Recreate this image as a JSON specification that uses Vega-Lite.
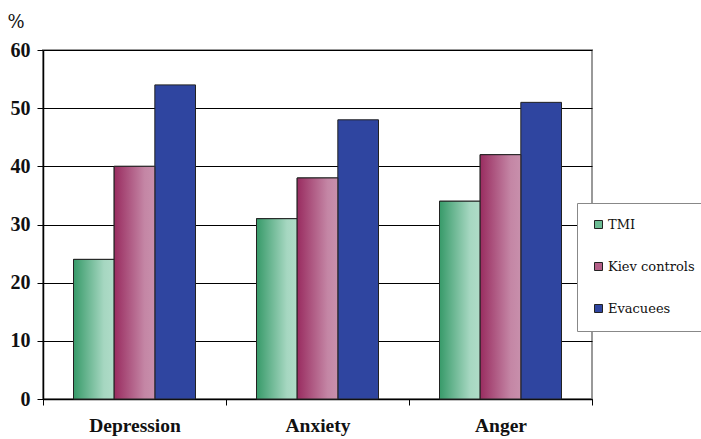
{
  "$schema": "https://vega.github.io/schema/vega-lite/v6.json",
  "width": 549,
  "height": 349,
  "autosize": {"type": "none"},
  "padding": {"left": 43, "top": 50, "right": 109, "bottom": 40},
  "background": "white",
  "config": {
    "view": {"stroke": "#999999", "strokeWidth": 2},
    "font": "Liberation Serif"
  },
  "data": {
    "values": [
      {"scale": "Depression", "group": "TMI", "pct": 24},
      {"scale": "Depression", "group": "Kiev controls", "pct": 40},
      {"scale": "Depression", "group": "Evacuees", "pct": 54},
      {"scale": "Anxiety", "group": "TMI", "pct": 31},
      {"scale": "Anxiety", "group": "Kiev controls", "pct": 38},
      {"scale": "Anxiety", "group": "Evacuees", "pct": 48},
      {"scale": "Anger", "group": "TMI", "pct": 34},
      {"scale": "Anger", "group": "Kiev controls", "pct": 42},
      {"scale": "Anger", "group": "Evacuees", "pct": 51}
    ]
  },
  "encoding": {
    "x": {
      "field": "scale",
      "type": "nominal",
      "sort": ["Depression", "Anxiety", "Anger"],
      "scale": {"paddingInner": 0, "paddingOuter": 0},
      "axis": {
        "title": null,
        "labelAngle": 0,
        "labelFont": "Liberation Serif",
        "labelFontWeight": "bold",
        "labelFontSize": 19.5,
        "labelColor": "#111111",
        "labelPadding": 11,
        "tickBand": "extent",
        "tickColor": "#000000",
        "tickSize": 6,
        "domainColor": "#000000",
        "domainWidth": 1.5
      }
    },
    "xOffset": {
      "field": "group",
      "type": "nominal",
      "scale": {"domain": ["TMI", "Kiev controls", "Evacuees"], "paddingInner": 0, "paddingOuter": 0.75}
    },
    "y": {
      "field": "pct",
      "type": "quantitative",
      "scale": {"domain": [0, 60], "nice": false},
      "axis": {
        "values": [0, 10, 20, 30, 40, 50, 60],
        "title": "%",
        "titleAngle": 0,
        "titleFont": "DejaVu Serif",
        "titleFontWeight": "normal",
        "titleFontSize": 18,
        "titleColor": "#111111",
        "titleX": -36,
        "titleY": -23,
        "titleAlign": "left",
        "titleBaseline": "alphabetic",
        "labelFont": "Liberation Serif",
        "labelFontWeight": "bold",
        "labelFontSize": 20,
        "labelColor": "#111111",
        "labelPadding": 7,
        "tickColor": "#000000",
        "tickSize": 6,
        "domainColor": "#000000",
        "domainWidth": 1.5,
        "gridColor": "#000000",
        "gridWidth": 1,
        "gridOpacity": 1
      }
    }
  },
  "layer": [
    {
      "mark": {"type": "bar", "stroke": "#222222", "strokeWidth": 1},
      "encoding": {
        "color": {
          "field": "group",
          "type": "nominal",
          "scale": {
            "domain": ["TMI", "Kiev controls", "Evacuees"],
            "range": ["#6cbc94", "#b45f88", "#2f45a0"]
          },
          "legend": {
            "title": null,
            "orient": "none",
            "legendX": 534,
            "legendY": 153,
            "direction": "vertical",
            "padding": 15,
            "rowPadding": 28,
            "fillColor": "white",
            "strokeColor": "#888888",
            "symbolType": "square",
            "symbolSize": 64,
            "symbolStrokeColor": "#222222",
            "symbolStrokeWidth": 1,
            "symbolOpacity": 1,
            "labelFont": "DejaVu Serif",
            "labelFontWeight": "normal",
            "labelFontSize": 13,
            "labelColor": "#111111",
            "labelOffset": 3,
            "labelLimit": 200
          }
        }
      }
    },
    {
      "transform": [{"filter": "datum.group === 'TMI'"}],
      "mark": {
        "type": "bar",
        "stroke": "#222222",
        "strokeWidth": 1,
        "fill": {
          "gradient": "linear",
          "x1": 0, "x2": 1, "y1": 0, "y2": 0,
          "stops": [
            {"offset": 0, "color": "#379a69"},
            {"offset": 0.75, "color": "#a6d7c1"},
            {"offset": 1, "color": "#b0dcc8"}
          ]
        }
      }
    },
    {
      "transform": [{"filter": "datum.group === 'Kiev controls'"}],
      "mark": {
        "type": "bar",
        "stroke": "#222222",
        "strokeWidth": 1,
        "fill": {
          "gradient": "linear",
          "x1": 0, "x2": 1, "y1": 0, "y2": 0,
          "stops": [
            {"offset": 0, "color": "#992c60"},
            {"offset": 0.75, "color": "#c486a5"},
            {"offset": 1, "color": "#c890ac"}
          ]
        }
      }
    }
  ]
}
